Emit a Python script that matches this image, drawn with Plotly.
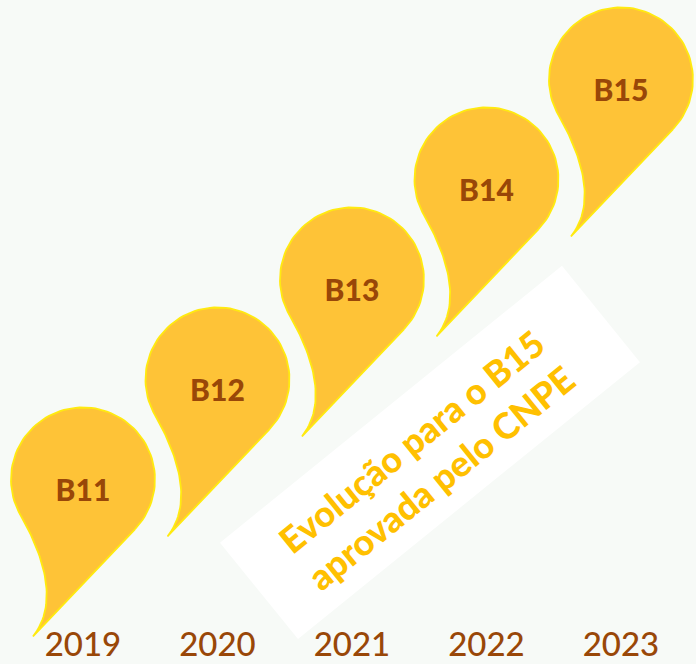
import math
import plotly.graph_objects as go

# ---- data ----
years = ["2019", "2020", "2021", "2022", "2023"]
blend = [11, 12, 13, 14, 15]
labels = ["B11", "B12", "B13", "B14", "B15"]
message = "Evolução para o B15<br>aprovada pelo CNPE"

# ---- layout constants ----
W, H = 696, 664
X_RANGE = [-0.617, 4.558]
Y_RANGE = [9.294, 15.934]
PXX = W / (X_RANGE[1] - X_RANGE[0])   # pixels per x unit
PXY = H / (Y_RANGE[1] - Y_RANGE[0])   # pixels per y unit

FILL = "#FEC337"
EDGE = "#FFEA10"
BROWN = "#994708"
GOLD = "#FFC000"


def px_to_data(x0, y0, dx, dy):
    """offset in screen pixels (y down) -> data coords"""
    return x0 + dx / PXX, y0 - dy / PXY


def pin_path(xc, yc, r=72.0, tip=(-50.0, 157.0)):
    tx, ty = tip
    d = math.hypot(tx, ty)
    base = math.degrees(math.atan2(ty, tx))
    a_t = base - math.degrees(math.acos(r / d))   # right tangent point angle
    pts = []
    a_end = 150.0 - 360.0
    n = 80
    for i in range(n + 1):
        a = math.radians(a_t + (a_end - a_t) * i / n)
        pts.append((r * math.cos(a), r * math.sin(a)))
    p0 = pts[-1]
    p1 = (p0[0] + 40 * 0.5, p0[1] + 40 * 0.866)
    p2 = (-22.0, 122.0)
    p3 = (tx, ty)
    for i in range(1, 41):
        t = i / 40
        mt = 1 - t
        bx = mt**3 * p0[0] + 3 * mt**2 * t * p1[0] + 3 * mt * t**2 * p2[0] + t**3 * p3[0]
        by = mt**3 * p0[1] + 3 * mt**2 * t * p1[1] + 3 * mt * t**2 * p2[1] + t**3 * p3[1]
        pts.append((bx, by))
    pts.append(pts[0])
    xs, ys = [], []
    for dx, dy in pts:
        x, y = px_to_data(xc, yc, dx, dy)
        xs.append(x)
        ys.append(y)
    return xs, ys


fig = go.Figure()

# white rotated panel behind the message
ang = math.radians(-39)
u = (math.cos(ang), math.sin(ang))
v = (-u[1], u[0])
cx_d, cy_d = 2.58, 11.41
half_l, half_w = 220, 62
corners = []
for su, sv in [(-1, -1), (1, -1), (1, 1), (-1, 1), (-1, -1)]:
    dx = su * half_l * u[0] + sv * half_w * v[0]
    dy = su * half_l * u[1] + sv * half_w * v[1]
    corners.append(px_to_data(cx_d, cy_d, dx, dy))
fig.add_trace(go.Scatter(
    x=[c[0] for c in corners], y=[c[1] for c in corners],
    mode="lines", fill="toself", fillcolor="#FFFFFF",
    line=dict(width=0, color="#FFFFFF"), hoverinfo="skip", showlegend=False))

# pins
for i, (val, lab) in enumerate(zip(blend, labels)):
    xc, yc = px_to_data(i, val, 0, -14)
    xs, ys = pin_path(xc, yc)
    fig.add_trace(go.Scatter(
        x=xs, y=ys, mode="lines", fill="toself", fillcolor=FILL,
        line=dict(color=EDGE, width=1.8), hoverinfo="skip", showlegend=False))

# pin labels
fig.add_trace(go.Scatter(
    x=list(range(len(labels))), y=blend, mode="text", text=labels,
    textfont=dict(family="Lato, sans-serif", size=30, color=BROWN, weight=900),
    textposition="middle center", hoverinfo="skip", showlegend=False))

# year labels
year_y = Y_RANGE[1] - 648 / PXY
fig.add_trace(go.Scatter(
    x=list(range(len(years))), y=[year_y] * len(years), mode="text", text=years,
    textfont=dict(family="Lato, sans-serif", size=33, color=BROWN, weight=500),
    textposition="middle center", hoverinfo="skip", showlegend=False))

# rotated message
fig.add_annotation(
    x=2.55, y=11.34, text=message, showarrow=False, textangle=-39,
    font=dict(family="Lato, sans-serif", size=36, color=GOLD, weight=900),
    align="center", xanchor="center", yanchor="middle")

fig.update_layout(
    width=W, height=H,
    margin=dict(l=0, r=0, t=0, b=0),
    paper_bgcolor="#F7FAF7", plot_bgcolor="rgba(0,0,0,0)",
    xaxis=dict(range=X_RANGE, visible=False, fixedrange=True),
    yaxis=dict(range=Y_RANGE, visible=False, fixedrange=True),
)

fig.write_html("out.html", config={"displayModeBar": False})

# remove the default page margin so the figure fills the window exactly
with open("out.html", "r", encoding="utf-8") as f:
    html = f.read()
html = html.replace("<head>", "<head><style>html,body{margin:0;padding:0;overflow:hidden;}</style>", 1)
with open("out.html", "w", encoding="utf-8") as f:
    f.write(html)
